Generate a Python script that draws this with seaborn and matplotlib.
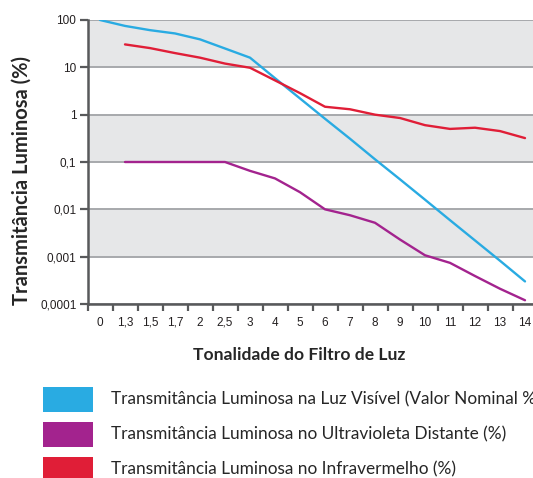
import numpy as np
import pandas as pd
import matplotlib
matplotlib.use("Agg")
import matplotlib.pyplot as plt
from matplotlib.patches import Patch
import seaborn as sns

# ── Data ────────────────────────────────────────────────────────────────
shades = ["0", "1,3", "1,5", "1,7", "2", "2,5", "3", "4", "5", "6",
          "7", "8", "9", "10", "11", "12", "13", "14"]

visivel = [100, 75, 61, 52, 39, 25, 16, 5.9, 2.2, 0.82, 0.31, 0.114,
           0.043, 0.016, 0.0059, 0.0022, 0.00082, 0.0003]
ultravioleta = [np.nan, 0.1, 0.1, 0.1, 0.1, 0.1, 0.065, 0.045, 0.023, 0.01,
                0.0075, 0.0052, 0.0023, 0.00107, 0.00074, 0.00039,
                0.00021, 0.00012]
infravermelho = [np.nan, 30.5, 25.5, 20, 16, 12, 9.8, 5.3, 2.85, 1.47,
                 1.3, 1.0, 0.85, 0.6, 0.5, 0.53, 0.45, 0.32]

series_names = [
    "Transmitância Luminosa na Luz Visível (Valor Nominal %)",
    "Transmitância Luminosa no Ultravioleta Distante (%)",
    "Transmitância Luminosa no Infravermelho (%)",
]
colors = ["#29abe2", "#a3238e", "#e01e37"]

y_ticks = [1e-4, 1e-3, 1e-2, 1e-1, 1, 10, 100]
y_labels = ["0,0001", "0,001", "0,01", "0,1", "1", "10", "100"]

# ── Long table for seaborn ─────────────────────────────────────────────
frames = []
for name, vals in zip(series_names, [visivel, ultravioleta, infravermelho]):
    frames.append(pd.DataFrame({"pos": np.arange(len(shades)),
                                "valor": vals, "serie": name}))
df = pd.concat(frames).dropna()

sns.set_style("white")
plt.rcParams["font.family"] = ["Liberation Sans", "DejaVu Sans"]

fig = plt.figure(figsize=(5.33, 4.78), dpi=100)
ax = fig.add_axes([87.5 / 533, 174 / 478, 450 / 533, 284 / 478])

# alternating grey bands
for lo, hi in [(10, 100), (0.1, 1), (0.001, 0.01)]:
    ax.axhspan(lo, hi, color="#e6e7e8", zorder=0, lw=0)

sns.lineplot(data=df, x="pos", y="valor", hue="serie", hue_order=series_names,
             palette=colors, linewidth=1.7, sort=False, ax=ax, zorder=3)
ax.get_legend().remove()

ax.set_yscale("log")
ax.set_ylim(1e-4, 100)
ax.set_xlim(-0.5, len(shades) - 0.5)

ax.set_yticks(y_ticks)
ax.set_yticklabels(y_labels)
ax.yaxis.set_minor_locator(matplotlib.ticker.NullLocator())
ax.grid(axis="y", color="#a7a9ac", linewidth=1.4, zorder=1)
ax.set_axisbelow(True)

ax.set_xticks(np.arange(len(shades)))
ax.set_xticklabels(shades)
ax.set_xticks(np.arange(len(shades) + 1) - 0.5, minor=True)
ax.tick_params(axis="x", which="major", length=0, pad=9, labelsize=8.5,
               colors="#231f20")
ax.tick_params(axis="x", which="minor", length=5, width=1.6,
               direction="out", color="#58595b", bottom=True)
ax.tick_params(axis="y", which="major", length=6, width=1.6, left=True,
               direction="out", color="#58595b", labelsize=8.5,
               labelcolor="#231f20", pad=2)

for side in ["top", "right"]:
    ax.spines[side].set_visible(False)
for side in ["left", "bottom"]:
    ax.spines[side].set_color("#58595b")
    ax.spines[side].set_linewidth(1.8)

ax.set_xlabel("Tonalidade do Filtro de Luz", fontsize=12.6,
              fontweight="bold", family=["Lato", "DejaVu Sans"])
ax.xaxis.set_label_coords(0.47, -0.151)
ax.set_ylabel("Transmitância Luminosa (%)", fontsize=14.5,
              fontweight="bold", family=["Lato", "DejaVu Sans"])
ax.yaxis.set_label_coords(-0.123, 0.436)

handles = [Patch(facecolor=c, edgecolor="none") for c in colors]
fig.legend(handles, series_names, loc="upper left",
           bbox_to_anchor=(43 / 533, 1 - 386.7 / 478), frameon=False,
           borderpad=0, borderaxespad=0, handlelength=2.9, handleheight=1.85,
           labelspacing=0.58, handletextpad=1.03,
           prop={"family": ["Lato", "DejaVu Sans"], "size": 12.4})

fig.savefig("out.png", dpi=100)
